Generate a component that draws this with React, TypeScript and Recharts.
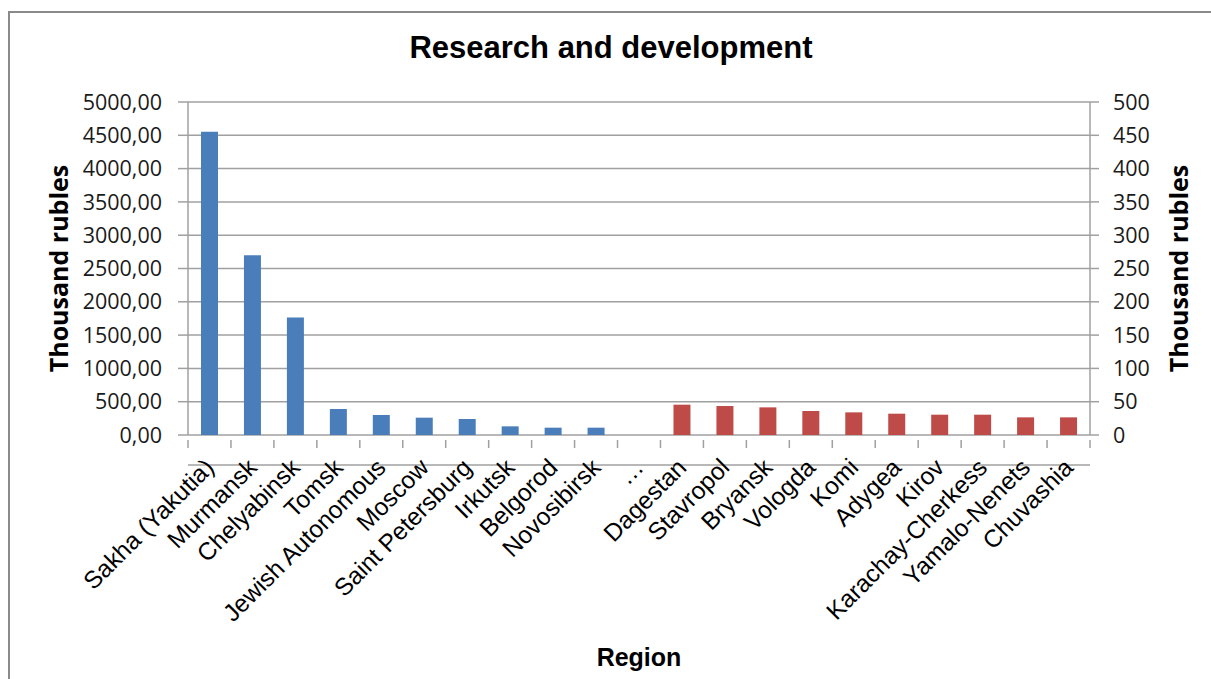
import { BarChart, Bar, XAxis, YAxis, CartesianGrid } from 'recharts';

// Regions ordered by R&D spending; "…" separates the top group from the bottom group
const regions = [
  'Sakha (Yakutia)',
  'Murmansk',
  'Chelyabinsk',
  'Tomsk',
  'Jewish Autonomous',
  'Moscow',
  'Saint Petersburg',
  'Irkutsk',
  'Belgorod',
  'Novosibirsk',
  '…',
  'Dagestan',
  'Stavropol',
  'Bryansk',
  'Vologda',
  'Komi',
  'Adygea',
  'Kirov',
  'Karachay-Cherkess',
  'Yamalo-Nenets',
  'Chuvashia',
];

// thousand rubles, left axis
const topValues = [4555, 2700, 1765, 390, 300, 260, 240, 130, 110, 110];
// thousand rubles, right axis
const bottomValues = [45.5, 43.5, 41.5, 36, 34, 32, 30.5, 30.5, 26.5, 26.5];

const leftTicks = [0, 500, 1000, 1500, 2000, 2500, 3000, 3500, 4000, 4500, 5000];
const rightTicks = [0, 50, 100, 150, 200, 250, 300, 350, 400, 450, 500];

const gapIndex = regions.indexOf('…');

const data = regions.map((region, i) => ({
  region,
  top: i < gapIndex ? topValues[i] : null,
  bottom: i > gapIndex ? bottomValues[i - gapIndex - 1] : null,
}));

const W = 1211;
const H = 679;
const PLOT_LEFT = 188;
const PLOT_RIGHT = 1090;
const PLOT_TOP = 102;
const PLOT_BOTTOM = 435;

const AXIS_GREY = '#a0a0a0';
const TICK_FONT = '"Open Sans", "Noto Sans", sans-serif';
const LABEL_FONT = '"Liberation Sans", Arial, sans-serif';
const MARK_LEN = 8;
// the tick y handed to custom ticks sits below the axis line by this much
const TICK_Y_SHIFT = 25;

// rotated region name plus Excel-style tick marks on the category boundaries
function RegionTick({ x, y, payload, index }: any) {
  const half = payload.offset ?? 0;
  const axisY = y - TICK_Y_SHIFT;
  const px = x + 6;
  const py = y + 4;
  const last = index === regions.length - 1;
  return (
    <g>
      <line x1={x - half} x2={x - half} y1={axisY} y2={axisY + MARK_LEN} stroke={AXIS_GREY} strokeWidth={1.5} />
      {last && (
        <line x1={x + half} x2={x + half} y1={axisY} y2={axisY + MARK_LEN} stroke={AXIS_GREY} strokeWidth={1.5} />
      )}
      <text
        x={px}
        y={py}
        transform={`rotate(-45, ${px}, ${py})`}
        textAnchor="end"
        fontFamily={LABEL_FONT}
        fontSize={24.5}
        fill="#000"
      >
        {payload.value}
      </text>
    </g>
  );
}

const fmtLeft = (v: number) => v.toFixed(2).replace('.', ',');

export default function App() {
  const midY = (PLOT_TOP + PLOT_BOTTOM) / 2;
  return (
    <div style={{ position: 'fixed', left: 0, top: 0, width: W, height: H, background: '#fff' }}>
      <div
        style={{
          position: 'absolute',
          left: 8,
          top: 11,
          right: -10,
          bottom: -10,
          borderLeft: '2px solid #8a8a8a',
          borderTop: '2px solid #8a8a8a',
        }}
      />
      <div style={{ position: 'absolute', left: 0, top: 0 }}>
        <BarChart
          width={W}
          height={H}
          data={data}
          margin={{ top: PLOT_TOP, left: PLOT_LEFT - 140, right: W - PLOT_RIGHT - 100, bottom: 14 }}
        >
          <CartesianGrid
            yAxisId="left"
            xAxisId="main"
            vertical={false}
            stroke={AXIS_GREY}
            strokeWidth={1.5}
          />
          <XAxis
            xAxisId="main"
            dataKey="region"
            interval={0}
            height={230}
            axisLine={{ stroke: AXIS_GREY, strokeWidth: 1.5 }}
            tickLine={false}
            tickSize={0}
            tickMargin={0}
            tick={<RegionTick />}
          />
          <XAxis xAxisId="alt" dataKey="region" hide />
          <YAxis
            yAxisId="left"
            orientation="left"
            width={140}
            domain={[0, 5000]}
            ticks={leftTicks}
            interval={0}
            tickFormatter={fmtLeft}
            tickSize={10}
            tickMargin={16}
            axisLine={{ stroke: AXIS_GREY, strokeWidth: 1.5 }}
            tickLine={{ stroke: AXIS_GREY, strokeWidth: 1.5 }}
            tick={{ fill: '#1a1a1a', fontSize: 21.5, fontFamily: TICK_FONT }}
          />
          <YAxis
            yAxisId="right"
            orientation="right"
            width={100}
            domain={[0, 500]}
            ticks={rightTicks}
            interval={0}
            tickSize={9}
            tickMargin={14}
            axisLine={{ stroke: AXIS_GREY, strokeWidth: 1.5 }}
            tickLine={{ stroke: AXIS_GREY, strokeWidth: 1.5 }}
            tick={{ fill: '#1a1a1a', fontSize: 21.5, fontFamily: TICK_FONT }}
          />
          <Bar
            dataKey="top"
            xAxisId="main"
            yAxisId="left"
            fill="#4a7ebb"
            barSize={17}
            isAnimationActive={false}
          />
          <Bar
            dataKey="bottom"
            xAxisId="alt"
            yAxisId="right"
            fill="#be4b48"
            barSize={17}
            isAnimationActive={false}
          />
          <text
            x={611}
            y={58}
            textAnchor="middle"
            fontFamily={LABEL_FONT}
            fontWeight="bold"
            fontSize={31}
            fill="#000"
          >
            Research and development
          </text>
          <text
            x={58}
            y={midY}
            transform={`rotate(-90, 58, ${midY})`}
            textAnchor="middle"
            dominantBaseline="central"
            fontFamily={TICK_FONT}
            fontWeight="bold"
            fontSize={25}
            fill="#000"
          >
            Thousand rubles
          </text>
          <text
            x={1178}
            y={midY}
            transform={`rotate(-90, 1178, ${midY})`}
            textAnchor="middle"
            dominantBaseline="central"
            fontFamily={TICK_FONT}
            fontWeight="bold"
            fontSize={25}
            fill="#000"
          >
            Thousand rubles
          </text>
          <text
            x={(PLOT_LEFT + PLOT_RIGHT) / 2}
            y={666}
            textAnchor="middle"
            fontFamily={LABEL_FONT}
            fontWeight="bold"
            fontSize={25}
            fill="#000"
          >
            Region
          </text>
        </BarChart>
      </div>
    </div>
  );
}
